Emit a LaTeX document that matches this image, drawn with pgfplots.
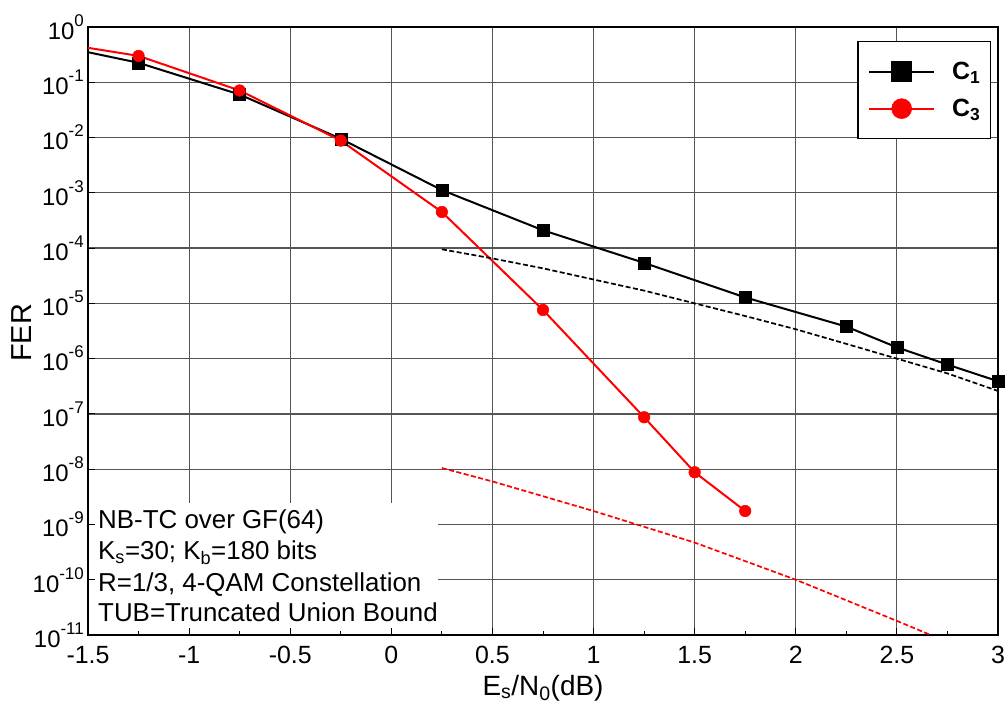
\documentclass[border=0pt]{standalone}
\usepackage{fontspec}
\setmainfont{Liberation Sans}
\usepackage{pgfplots}
\pgfplotsset{compat=1.18}
\pgfdeclarelayer{textbox}
\pgfplotsset{
  layers/mylayers/.define layer set={axis background,axis grid,textbox,axis ticks,axis lines,axis tick labels,main,axis descriptions,axis foreground}{
    grid style={/pgfplots/on layer=axis grid},
    tick style={/pgfplots/on layer=axis ticks},
    axis line style={/pgfplots/on layer=axis lines},
    label style={/pgfplots/on layer=axis descriptions},
    legend style={/pgfplots/on layer=axis descriptions},
    title style={/pgfplots/on layer=axis descriptions},
    colorbar style={/pgfplots/on layer=axis descriptions},
    ticklabel style={/pgfplots/on layer=axis tick labels},
    axis background@ style={/pgfplots/on layer=axis background},
    3d box foreground style={/pgfplots/on layer=axis foreground},
  },
}
\definecolor{minorgrid}{RGB}{200,200,238}
\definecolor{majorgrid}{RGB}{85,85,85}
\newcommand\tl[1]{10\raisebox{13bp}{\fontsize{17}{17}\selectfont #1}}
\begin{document}
\begin{tikzpicture}
\begin{axis}[
  name=ax,
  set layers=mylayers,
  scale only axis, width=910bp, height=608bp,
  ymode=log, log basis y=10,
  xmin=-1.5, xmax=3, ymin=1e-11, ymax=1,
  xtick={-1.5,-1,-0.5,0,0.5,1,1.5,2,2.5,3},
  xticklabels={-1.5,-1,-0.5,0,0.5,1,1.5,2,2.5,3},
  minor x tick num=1,
  ytick={1e-11,1e-10,1e-9,1e-8,1e-7,1e-6,1e-5,1e-4,1e-3,1e-2,1e-1,1},
  yticklabels={\tl{-11},\tl{-10},\tl{-9},\tl{-8},\tl{-7},\tl{-6},\tl{-5},\tl{-4},\tl{-3},\tl{-2},\tl{-1},\tl{0}},
  tick align=inside, tick pos=left,
  major tick length=7bp, minor tick length=4bp,
  tick style={black, line width=1bp},
  xmajorgrids, ymajorgrids, yminorgrids,
  major grid style={majorgrid, line width=1.2bp},
  minor grid style={minorgrid, line width=1bp, dash pattern=on 3bp off 1.5bp},
  axis line style={black, line width=1.3bp},
  xticklabel style={font=\fontsize{25}{25}\selectfont, inner sep=0pt, anchor=north, yshift=-11bp},
  yticklabel style={font=\fontsize{24}{24}\selectfont, inner sep=0pt, anchor=east, xshift=-4bp},
  legend style={at={(1,1)}, anchor=north east, xshift=-7bp, yshift=-14bp,
    draw=black, line width=1.3bp, inner xsep=10bp, inner ysep=20bp, row sep=17bp,
    font=\fontsize{25}{25}\selectfont\bfseries,
    nodes={inner sep=0pt}},
  legend cell align=left,
  legend image code/.code={\draw[line width=2.2bp, mark size=10bp, mark indices={2}] plot coordinates {(0bp,0bp)(32.5bp,0bp)(65bp,0bp)}; \path (82bp,0bp);},
]
\addplot[black, line width=2bp, mark=square*, mark size=6bp, mark options={line width=0.5bp}, mark indices={2,3,4,5,6,7,8,9,10,11,12}] coordinates {
(-1.5,0.35) (-1.25,0.225) (-0.75,0.06) (-0.25,0.0095) (0.25,1.12e-3) (0.75,2.1e-4)
(1.25,5.4e-5) (1.75,1.28e-5) (2.25,3.8e-6) (2.5,1.6e-6) (2.75,7.8e-7) (3.0,3.9e-7)};
\addlegendentry{C\textsubscript{1}}
\addplot[red, line width=2bp, mark=*, mark size=5.8bp, mark options={line width=0.5bp}, mark indices={2,3,4,5,6,7,8,9}] coordinates {
(-1.5,0.42) (-1.25,0.30) (-0.75,0.071) (-0.25,0.0088) (0.25,4.5e-4) (0.75,7.6e-6)
(1.25,8.7e-8) (1.5,8.8e-9) (1.75,1.75e-9)};
\addlegendentry{C\textsubscript{3}}
\addplot[black, line width=1.7bp, dash pattern=on 5bp off 2.5bp, forget plot] coordinates {
(0.25,9.5e-5) (0.5,6.5e-5) (0.75,4.3e-5) (1.0,2.7e-5) (1.25,1.7e-5) (1.5,1.0e-5)
(1.75,5.9e-6) (2.0,3.4e-6) (2.25,1.85e-6) (2.5,1.0e-6) (2.75,5.4e-7) (3.0,2.6e-7)};
\addplot[red, line width=1.7bp, dash pattern=on 5bp off 2.5bp, forget plot] coordinates {
(0.25,1.05e-8) (0.5,6e-9) (1.0,1.75e-9) (1.5,4.7e-10) (2.0,1.0e-10) (2.5,1.8e-11) (2.667,1e-11)};
\begin{pgfonlayer}{textbox}
\fill[white] (rel axis cs:0,0) rectangle (rel axis cs:0.385,0.217);
\node[anchor=base west, inner sep=0pt, font=\fontsize{26}{26}\selectfont] at ([xshift=10bp,yshift=106.7bp]rel axis cs:0,0) {NB-TC over GF(64)};
\node[anchor=base west, inner sep=0pt, font=\fontsize{26}{26}\selectfont] at ([xshift=10bp,yshift=75bp]rel axis cs:0,0) {K\textsubscript{s}=30; K\textsubscript{b}=180 bits};
\node[anchor=base west, inner sep=0pt, font=\fontsize{26}{26}\selectfont] at ([xshift=10bp,yshift=43.3bp]rel axis cs:0,0) {R=1/3, 4-QAM Constellation};
\node[anchor=base west, inner sep=0pt, font=\fontsize{26}{26}\selectfont] at ([xshift=10bp,yshift=13.3bp]rel axis cs:0,0) {TUB=Truncated Union Bound};
\end{pgfonlayer}
\end{axis}
\node[rotate=90, anchor=base, font=\fontsize{29}{29}\selectfont] at ([xshift=-56bp,yshift=-2bp]ax.west) {FER};
\node[anchor=base, font=\fontsize{28}{28}\selectfont] at ([yshift=-60bp]ax.south) {E\textsubscript{s}/N\textsubscript{0}(dB)};
\pgfresetboundingbox
\path[use as bounding box] ([xshift=-88bp,yshift=-73bp]ax.south west) rectangle ([xshift=9bp,yshift=27bp]ax.north east);
\end{tikzpicture}
\end{document}
